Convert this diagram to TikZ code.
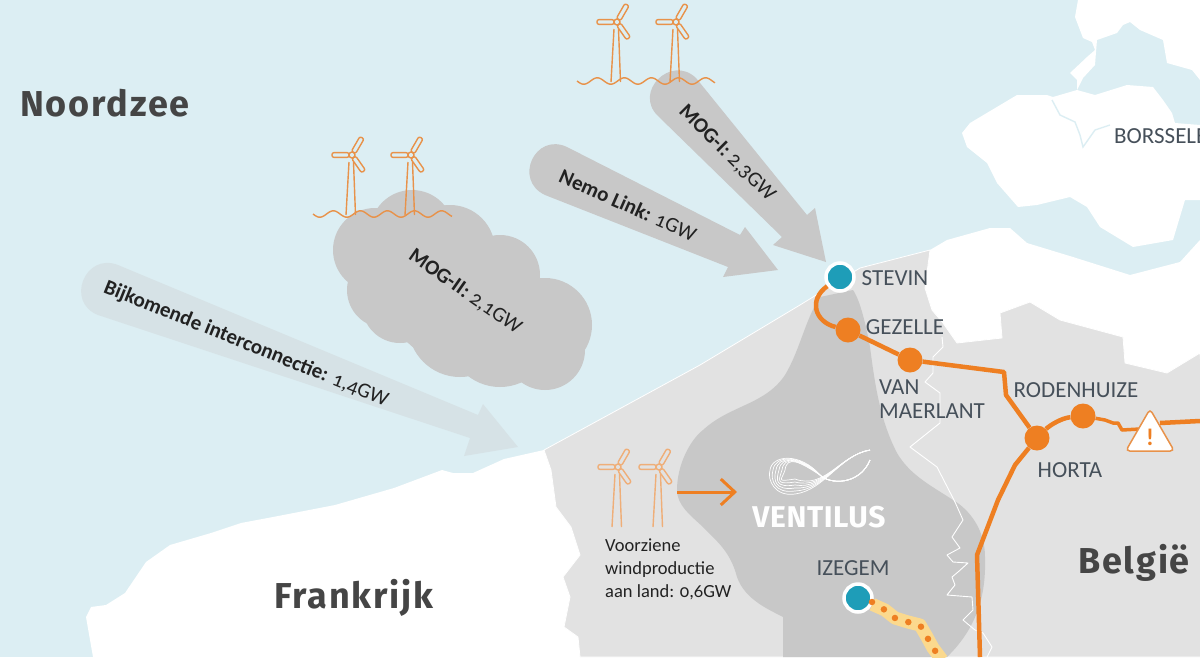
\documentclass[tikz,border=0pt]{standalone}
\usepackage{fontspec}
\setmainfont{Carlito}[Numbers=OldStyle]
\newfontfamily\headfont{Fira Sans}[LetterSpace=5]
\newfontfamily\logofont{Fira Sans}[LetterSpace=2]
\usetikzlibrary{arrows.meta,shapes.geometric}
\definecolor{sea}{HTML}{DCEEF3}
\definecolor{land}{HTML}{E2E2E2}
\definecolor{zone}{HTML}{C8C8C8}
\definecolor{faded}{HTML}{D6E2E6}
\definecolor{grid}{HTML}{EE7F22}
\definecolor{wind}{HTML}{E8924A}
\definecolor{windland}{HTML}{EFAE78}
\definecolor{teal}{HTML}{1E9DB8}
\definecolor{cable}{HTML}{FBD98E}
\definecolor{inkdark}{HTML}{222222}
\definecolor{ink}{HTML}{46505A}
\definecolor{headink}{HTML}{454545}
\tikzset{
  station/.style={circle,draw=white,line width=3.5pt,fill=teal,minimum size=28pt,inner sep=0pt},
  junction/.style={circle,fill=grid,minimum size=25pt,inner sep=0pt},
  place/.style={text=ink,font=\fontsize{23}{24}\selectfont,inner sep=0pt,align=left},
  flowtext/.style={text=inkdark,font=\fontsize{21}{24}\selectfont,inner sep=0pt},
  heading/.style={text=headink,font=\headfont\bfseries\fontsize{36}{40}\selectfont,inner sep=0pt},
  gridline/.style={grid,line width=4.5pt,line join=round},
  border/.style={white,line width=.9pt,line join=round},
  turbine/.pic={
    \foreach \a in {60,180,-55} {
      \draw[rotate=\a,rounded corners=2pt,line width=1.4pt] (3,-2.4) rectangle (20,2.4);
    }
    \draw[line width=1.4pt] (0,0) circle (3);
    \draw[line width=1.4pt] (-3,7) -- (-6,60);
    \draw[line width=1.4pt] (1.5,7) -- (3.5,60);
  }
}
\begin{document}
\begin{tikzpicture}[x=1pt,y=-1pt]
  \useasboundingbox (0,0) rectangle (1200,657);
  \fill [sea] (0,0) rectangle (1200,657);
  % land
  \fill [white] (93,657) -- (86,617) -- (91,607) -- (106,605) -- (125,593) -- (146,562) -- (170,545)
    -- (211,533) -- (241,523) -- (273,517) -- (335,505) -- (394,488) -- (442,470) -- (453,473)
    -- (473,473) -- (504,459) -- (544,450) -- (620,480) -- (620,657) -- cycle;
  \fill [white] (1078,0) -- (1075,17) -- (1083,38) -- (1092,42) -- (1095,50) -- (1087,57) -- (1070,73)
    -- (1077,80) -- (1077,90) -- (1053,97) -- (1047,95) -- (1017,95) -- (970,123) -- (962,133)
    -- (967,147) -- (987,163) -- (997,183) -- (1018,207) -- (1037,205) -- (1070,197) -- (1087,207)
    -- (1100,227) -- (1133,247) -- (1173,240) -- (1185,200) -- (1200,200) -- (1200,125) -- (1175,123)
    -- (1172,113) -- (1163,100) -- (1153,87) -- (1127,85) -- (1095,95) -- (1077,90) -- (1083,78)
    -- (1095,65) -- (1096,52) -- (1097,40) -- (1117,33) -- (1123,25) -- (1130,22) -- (1140,30)
    -- (1163,40) -- (1167,63) -- (1192,70) -- (1200,80) -- (1200,0) -- cycle;
  \draw [sea,line width=1.4pt] (1052,100) -- (1060,115) -- (1075,122) -- (1080,135) -- (1083,147)
    -- (1095,130) -- (1110,125);
  \fill [white] (900,300) -- (930,250) -- (947,240) -- (990,228) -- (1010,228) -- (1027,243) -- (1073,257)
    -- (1130,275) -- (1180,262) -- (1200,240) -- (1200,380) -- (1100,380) -- (960,350) -- cycle;
  \filldraw [fill=land,draw=white,line width=.8pt] (544,450) -- (700,365) -- (800,305) -- (860,268) -- (930,250)
    -- (925,288) -- (932,310) -- (943,323) -- (957,343) -- (1002,338) -- (1000,313) -- (1030,302)
    -- (1060,320) -- (1123,337) -- (1125,363) -- (1167,373) -- (1200,353) -- (1220,657)
    -- (580,657) -- (578,637) -- (564,627) -- (570,597) -- (563,577) -- (580,555) -- (571,527)
    -- (556,507) -- (551,470) -- cycle;
  % ventilus zone
  \fill [zone] (820,297) -- (853,290) .. controls (860,300) and (866,325) .. (870,347)
    .. controls (875,385) and (880,420) .. (897,453) .. controls (910,475) and (930,485) .. (953,500)
    .. controls (970,510) and (985,530) .. (985,557) .. controls (986,590) and (980,625) .. (947,657)
    -- (783,657) -- (783,617) .. controls (770,610) and (745,600) .. (737,577)
    .. controls (730,550) and (715,540) .. (703,527) .. controls (690,515) and (677,505) .. (677,490)
    .. controls (677,465) and (690,440) .. (703,430) .. controls (730,405) and (765,405) .. (785,375)
    .. controls (800,350) and (805,320) .. (820,297) -- cycle;
  % borders
  \draw [border] (942,337) -- (943,347) -- (933,357) -- (933,373) -- (925,382) -- (940,393) -- (940,423)
    -- (910,447) -- (937,467) -- (955,502) -- (963,520) -- (952,537) -- (960,548) -- (947,555)
    -- (953,562) -- (968,563) -- (958,572) -- (952,577) -- (955,585) -- (947,595) -- (972,597)
    -- (973,610) -- (963,620) -- (975,630) -- (983,633) -- (992,647) -- (987,657);
  % mog-ii cloud
  \foreach \cx/\cy/\cr in {412/232/42,375/250/42,385/290/38,400/305/38,450/250/45,500/275/40,
    545/325/47,545/350/40,500/335/52,460/325/52,450/300/60} {
    \fill [zone] (\cx,\cy) circle (\cr);
  }
  % flows
  \fill [faded] (483,404) -- (518,447) -- (464,456) -- (470,438) -- (98,315)
    .. controls (65,302) and (85,252) .. (118,265) -- (478,415) -- cycle;
  \fill [zone] (745,227) -- (778,270) -- (723,277) -- (728,267) -- (545,195)
    .. controls (513,180) and (535,132) .. (567,147) -- (740,235) -- cycle;
  \fill [zone] (815,208) -- (826,262) -- (773,245) -- (782,237) -- (658,116)
    .. controls (633,92) and (671,54) .. (696,78) -- (807,215) -- cycle;
  % wind parks
  \pic [color=wind] at (617,22) {turbine};
  \pic [color=wind] at (676,22) {turbine};
  \pic [color=wind] at (352,155) {turbine};
  \pic [color=wind] at (411,155) {turbine};
  \pic [color=windland] at (618,467) {turbine};
  \pic [color=windland] at (659,467) {turbine};
  \draw [wind,line width=1.4pt] plot [domain=577:715,samples=120] (\x,{81+3.2*sin(13.3*(\x-577))});
  \draw [wind,line width=1.4pt] plot [domain=313:452,samples=120] (\x,{214+3.2*sin(13.3*(\x-313))});
  % logo
  \foreach \d in {0,...,5} {
    \draw [white,line width=.7pt] (870,450) .. controls (840,455) and (825,490) .. (795,{494-\d*3})
      .. controls (775,{497-\d*3}) and ({767+\d*3},480) .. ({770+\d*3},470)
      .. controls ({772+\d*3},455) and (800,{452+\d*2}) .. (820,475)
      .. controls (830,485) and (860,485) .. (870,460);
  }
  \node (ventilus) [text=white,font=\logofont\bfseries\fontsize{30}{32}\selectfont,inner sep=0pt] at (819,517) {VENTILUS};
  % network
  \node (stevin) [station] at (840,277) {};
  \node (izegem) [station] at (858,598) {};
  \node (gezelle) [junction] at (848,330) {};
  \node (vanmaerlant) [junction] at (910,360) {};
  \node (horta) [junction] at (1037,438) {};
  \node (rodenhuize) [junction] at (1083,416) {};
  \coordinate (warnleft) at (1140,429);
  \coordinate (warnright) at (1160,423);
  \coordinate (eastend) at (1200,421);
  \coordinate (southend) at (980,657);
  \coordinate (cablestart) at (872,602);
  \coordinate (cableend) at (942,660);
  \coordinate (windout) at (677,492);
  \coordinate (windin) at (737,492);
  \draw [gridline] (stevin) .. controls (808,300) and (815,322) .. (gezelle);
  \draw [gridline] (gezelle) -- (vanmaerlant);
  \draw [gridline] (vanmaerlant) -- (1004,372) -- (1006,395) -- (horta);
  \draw [gridline] (horta) .. controls (1050,425) and (1062,418) .. (rodenhuize);
  \draw [gridline,line width=3.5pt] (rodenhuize) -- (1105,420) -- (1113,423) -- (1118,423) -- (1122,430) -- (warnleft);
  \draw [gridline] (warnright) -- (eastend);
  \draw [gridline] (horta) -- (1015,465) -- (998,500) -- (977,555) -- (southend);
  \draw [cable,line width=13pt,line join=round] (izegem) -- (885,610) -- (895,618) -- (908,622) -- (920,625) -- (927,637)
    -- (933,648) -- (cableend);
  \draw [grid,line width=6.5pt,line cap=round,dash pattern=on 0pt off 14pt] (cablestart) -- (885,610) -- (895,618)
    -- (908,622) -- (920,625) -- (927,637) -- (933,648) -- (cableend);
  \draw [grid,line width=3pt,-{Straight Barb[length=14pt,width=26pt]}] (windout) -- (windin);
  \node (warning) [regular polygon,regular polygon sides=3,minimum size=56pt,inner sep=0pt,rounded corners=4pt,
    draw=wind,line width=1.5pt,fill=white,text=grid,font=\bfseries\fontsize{24}{24}\selectfont] at (1150,437) {!};
  % labels
  \node (stevinlabel) [place] at (895,278) {STEVIN};
  \node (gezellelabel) [place] at (905,327) {GEZELLE};
  \node (maerlantlabel) [place,anchor=west] at (879,399) {VAN\\MAERLANT};
  \node (rodenhuizelabel) [place] at (1076,390) {RODENHUIZE};
  \node (hortalabel) [place] at (1070,470) {HORTA};
  \node (izegemlabel) [place] at (853,568) {IZEGEM};
  \node (borsselelabel) [place,anchor=west] at (1114,136) {BORSSELE};
  \node (noordzee) [heading] at (105,103) {Noordzee};
  \node (frankrijk) [heading] at (354,598) {Frankrijk};
  \node (belgie) [heading] at (1134,563) {België};
  \node (mogone) [flowtext,rotate=-45] at (727,153) {\textbf{MOG-I:} 2,3GW};
  \node (nemo) [flowtext,rotate=-24] at (628,205) {\textbf{Nemo Link:} 1GW};
  \node (mogtwo) [flowtext,rotate=-35] at (465,292) {\textbf{MOG-II:} 2,1GW};
  \node (extra) [flowtext,rotate=-22] at (246,344) {\textbf{Bijkomende interconnectie:} 1,4GW};
  \node (windtext) [flowtext,anchor=west,align=left,font=\fontsize{18.5}{23}\selectfont] at (605,569) {Voorziene\\windproductie\\aan land: 0,6GW};
\end{tikzpicture}
\end{document}
